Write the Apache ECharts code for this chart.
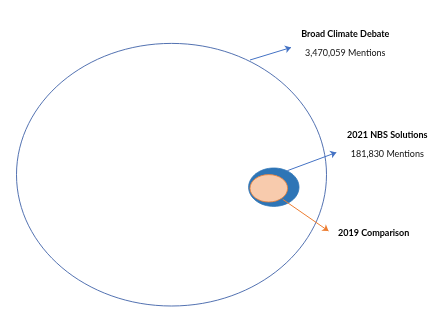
<!DOCTYPE html>
<html><head><meta charset="utf-8">
<script src="https://cdn.jsdelivr.net/npm/echarts@6/dist/echarts.min.js"></script>
<style>html,body{margin:0;padding:0;background:#fff}#c{width:443px;height:329px}</style>
</head><body><div id="c"></div>
<script>
// Data
var groups = ['Broad Climate Debate', '2021 NBS Solutions', '2019 Comparison'];
var mentions = [3470059, 181830, null];

// Layout (diagram coordinates, pixel-like units)
var ellipses = [
  {cx:171.5, cy:174.7, rx:155, ry:131.3, fill:'none', stroke:'#3F62A8', lw:0.9},
  {cx:273.8, cy:187.2, rx:25.2, ry:19.2, fill:'#2E75B6', stroke:'#2E75B6', lw:0.8},
  {cx:268.8, cy:188.3, rx:18.8, ry:13.7, fill:'#F8CBAD', stroke:'#ED7D31', lw:0.8}
];
var arrows = [
  {from:[250,60], to:[291,47.5], color:'#4472C4'},
  {from:[287.3,170.7], to:[336.3,152.5], color:'#4472C4'},
  {from:[282.7,199.3], to:[328.5,231], color:'#ED7D31'}
];
var labelPos = [
  {x:345.3, y:34, y2:53},
  {x:387.3, y:134.7, y2:153.7},
  {x:373.7, y:233, y2:null}
];
function fmt(n){return n.toString().replace(/\B(?=(\d{3})+(?!\d))/g, ',');}

var FONT = 'Lato, "Open Sans", sans-serif';
var chart = echarts.init(document.getElementById('c'), null, {renderer:'canvas'});
chart.setOption({
  animation:false,
  grid:{left:0,right:0,top:0,bottom:0},
  xAxis:{type:'value',min:0,max:443,show:false},
  yAxis:{type:'value',min:0,max:329,inverse:true,show:false},
  series:[
    {
      type:'custom',
      coordinateSystem:'cartesian2d',
      data: ellipses.map(function(e,i){return [e.cx,e.cy,i];}),
      renderItem:function(params, api){
        var e = ellipses[api.value(2)];
        var c = api.coord([e.cx,e.cy]);
        var r = api.size([e.rx,e.ry]);
        return {
          type:'ellipse',
          shape:{cx:c[0],cy:c[1],rx:r[0],ry:r[1]},
          style:{fill:e.fill==='none'?null:e.fill,stroke:e.stroke,lineWidth:e.lw}
        };
      },
      silent:true
    },
    {
      type:'lines',
      coordinateSystem:'cartesian2d',
      polyline:false,
      symbol:['none','arrow'],
      symbolSize:[0,6],
      data: arrows.map(function(a){return {coords:[a.from,a.to], lineStyle:{color:a.color}};}),
      lineStyle:{width:1,opacity:1,curveness:0},
      silent:true
    },
    {
      type:'custom',
      coordinateSystem:'cartesian2d',
      data: groups.map(function(g,i){return [labelPos[i].x, labelPos[i].y, i];}),
      renderItem:function(params, api){
        var i = api.value(2);
        var p = labelPos[i];
        var c1 = api.coord([p.x,p.y]);
        var children = [{
          type:'text',
          style:{text:groups[i],x:c1[0],y:c1[1],align:'center',verticalAlign:'middle',
                 font:'bold 9px '+FONT, fill:'#000'}
        }];
        if (mentions[i] != null) {
          var c2 = api.coord([p.x,p.y2]);
          children.push({
            type:'text',
            style:{text:fmt(mentions[i])+' Mentions',x:c2[0],y:c2[1],align:'center',verticalAlign:'middle',
                   font:'9px '+FONT, fill:'#111'}
          });
        }
        return {type:'group',children:children};
      },
      silent:true
    }
  ]
});
</script></body></html>
